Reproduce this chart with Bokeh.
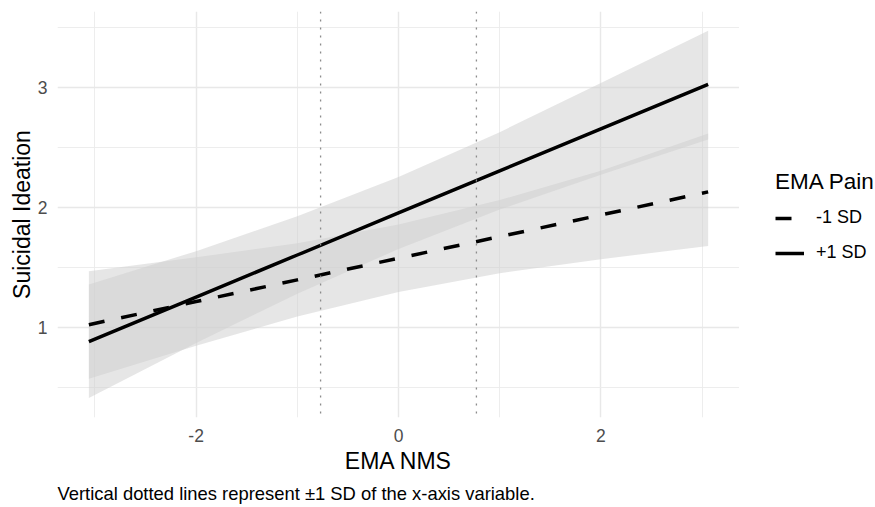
from bokeh.plotting import figure
from bokeh.layouts import row
from bokeh.models import Range1d, FixedTicker, Span, Legend, LegendItem, Title, ColumnDataSource
from bokeh.embed import file_html
from bokeh.resources import INLINE

# ---- data ----
x_nms = [-3.06, -2.0, -1.0, 0.0, 1.0, 2.0, 3.06]
plus_fit = [0.884, 1.255, 1.605, 1.955, 2.305, 2.655, 3.025]
plus_lo = [0.415, 0.873, 1.283, 1.655, 1.983, 2.273, 2.565]
plus_hi = [1.36, 1.637, 1.927, 2.255, 2.627, 3.037, 3.47]
minus_fit = [1.025, 1.218, 1.398, 1.578, 1.758, 1.938, 2.13]
minus_lo = [0.575, 0.85, 1.094, 1.298, 1.454, 1.57, 1.68]
minus_hi = [1.47, 1.586, 1.702, 1.858, 2.062, 2.306, 2.615]
sd_lines = [-0.77, 0.77]
x_ticks = [-2, 0, 2]
x_tick_labels = ["-2", "0", "2"]
x_minor = [-3, -1, 1, 3]
y_ticks = [1, 2, 3]
y_tick_labels = ["1", "2", "3"]
y_minor = [0.5, 1.5, 2.5, 3.5]
group_labels = ["-1 SD", "+1 SD"]

FONT = "Liberation Sans"

src_plus = ColumnDataSource(dict(x=x_nms, y=plus_fit, lo=plus_lo, hi=plus_hi))
src_minus = ColumnDataSource(dict(x=x_nms, y=minus_fit, lo=minus_lo, hi=minus_hi))

p = figure(width=739, height=507, output_backend="svg", toolbar_location=None,
           x_range=Range1d(-3.37, 3.37), y_range=Range1d(0.253, 3.631),
           min_border_left=57, min_border_right=0, min_border_top=11, min_border_bottom=89)
p.outline_line_color = None
p.background_fill_color = "white"
p.border_fill_color = "white"

# axes
p.xaxis.ticker = FixedTicker(ticks=x_ticks, minor_ticks=x_minor)
p.yaxis.ticker = FixedTicker(ticks=y_ticks, minor_ticks=y_minor)
p.xaxis.major_label_overrides = {t: s for t, s in zip(x_ticks, x_tick_labels)}
p.yaxis.major_label_overrides = {t: s for t, s in zip(y_ticks, y_tick_labels)}
for ax in (p.xaxis[0], p.yaxis[0]):
    ax.axis_line_color = None
    ax.major_tick_line_color = None
    ax.minor_tick_line_color = None
    ax.major_tick_out = 0
    ax.major_tick_in = 0
    ax.minor_tick_out = 0
    ax.minor_tick_in = 0
    ax.major_label_text_font = FONT
    ax.major_label_text_font_size = "17.5px"
    ax.major_label_text_color = "#4d4d4d"
    ax.axis_label_text_font = FONT
    ax.axis_label_text_font_size = "23px"
    ax.axis_label_text_font_style = "normal"
    ax.axis_label_text_color = "black"
p.xaxis.axis_label = "EMA NMS"
p.yaxis.axis_label = "Suicidal Ideation"
p.xaxis.major_label_standoff = 11
p.xaxis.axis_label_standoff = 3
p.yaxis.major_label_standoff = 10
p.yaxis.axis_label_standoff = 0

# grids
for g in (p.xgrid[0], p.ygrid[0]):
    g.grid_line_color = "#e8e8e8"
    g.grid_line_width = 1.5
    g.minor_grid_line_color = "#ebebeb"
    g.minor_grid_line_width = 0.9

# confidence bands
p.varea(x="x", y1="lo", y2="hi", source=src_minus, fill_color="#cfcfcf", fill_alpha=0.52)
p.varea(x="x", y1="lo", y2="hi", source=src_plus, fill_color="#cfcfcf", fill_alpha=0.52)

# SD lines
for v in sd_lines:
    p.add_layout(Span(location=v, dimension="height", line_color="#8c8c8c",
                      line_width=1.3, line_dash="2 6"))

line_minus = dict(line_color="black", line_width=3.5, line_dash="16 17")
line_plus = dict(line_color="black", line_width=3.5)
r_minus = p.line(x="x", y="y", source=src_minus, **line_minus)
r_plus = p.line(x="x", y="y", source=src_plus, **line_plus)

p.add_layout(Title(text="Vertical dotted lines represent \u00b11 SD of the x-axis variable.",
                   align="left", text_font=FONT, text_font_size="18.4px",
                   text_font_style="normal", text_color="black", standoff=8), "below")

# ---- legend panel (separate figure to the right of the plot) ----
q = figure(width=136, height=507, output_backend="svg", toolbar_location=None,
           x_range=Range1d(0, 1), y_range=Range1d(0, 1),
           min_border_left=0, min_border_right=0, min_border_top=0, min_border_bottom=0)
q.axis.visible = False
q.grid.visible = False
q.outline_line_color = None
q.background_fill_color = "white"
q.border_fill_color = "white"
# key renderers: same styles as the plot lines, data kept outside the visible range
k_minus = q.line(x=[-9, -8], y=[-9, -8], **line_minus)
k_plus = q.line(x=[-9, -8], y=[-9, -8], **line_plus)

legend = Legend(items=[LegendItem(label=group_labels[0], renderers=[k_minus]),
                       LegendItem(label=group_labels[1], renderers=[k_plus])],
                location=(36, 154), title="EMA Pain",
                title_text_font=FONT, title_text_font_size="22.5px", title_text_font_style="normal",
                title_text_color="black", title_standoff=12,
                label_text_font=FONT, label_text_font_size="18px", label_text_color="black",
                glyph_width=29, glyph_height=20, label_standoff=12, spacing=14,
                padding=0, margin=0, border_line_alpha=0, background_fill_alpha=0)
q.add_layout(legend)

layout = row(p, q)
open("out.html", "w").write(file_html(layout, INLINE))
